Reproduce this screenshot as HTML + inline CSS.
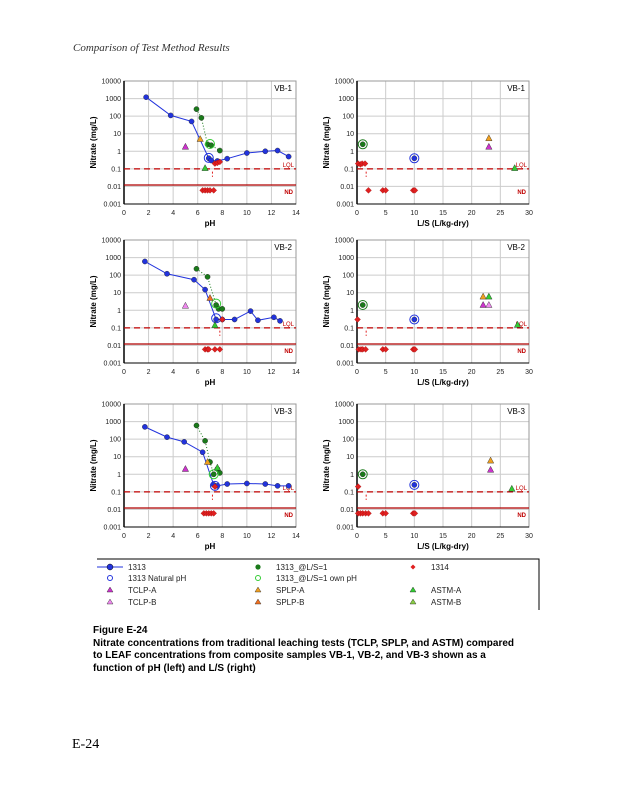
<!DOCTYPE html>
<html><head><meta charset="utf-8"><style>
body{margin:0;background:#fff;width:618px;height:800px;overflow:hidden;position:relative;font-family:"Liberation Sans",sans-serif}
.t{position:absolute;white-space:nowrap}
</style></head><body>
<div class="t" style="left:73px;top:42px;font-family:'Liberation Serif',serif;font-style:italic;font-size:11px;color:#333">Comparison of Test Method Results</div>
<svg id="s" width="618" height="800" style="position:absolute;left:0;top:0"></svg>
<div class="t" style="left:93px;top:625px;font-size:10px;font-weight:bold;line-height:12.5px">Figure E-24<br>Nitrate concentrations from traditional leaching tests (TCLP, SPLP, and ASTM) compared<br>to LEAF concentrations from composite samples VB-1, VB-2, and VB-3 shown as a<br>function of pH (left) and L/S (right)</div>
<div class="t" style="left:72px;top:737px;font-family:'Liberation Serif',serif;font-size:14px">E-24</div>
<script>
var s=document.getElementById('s'),h='';
var BL='#2233dd',GR='#1a7a1a',RD='#e02020',MG='#cc33cc',OR='#f0a020',LG='#33cc33',PK='#ee88ee',ORB='#f07020';
function Yf(p,v){return p.y0+(4-Math.log10(v))*p.hh/7}
function panel(x0,y0,xmax,step,lab,title,ndline){
 var w=172,hh=123;
 var X=function(v){return x0+v/xmax*w};
 for(var v=0;v<=xmax;v+=step){var xx=X(v);h+='<line x1="'+xx+'" y1="'+y0+'" x2="'+xx+'" y2="'+(y0+hh)+'" stroke="#ccc" stroke-width="1"/>';
  h+='<text x="'+xx+'" y="'+(y0+hh+11)+'" font-size="7" text-anchor="middle" fill="#222">'+v+'</text>';}
 var yl=['10000','1000','100','10','1','0.1','0.01','0.001'];
 for(var i=0;i<8;i++){var yy=y0+i*hh/7;h+='<line x1="'+x0+'" y1="'+yy+'" x2="'+(x0+w)+'" y2="'+yy+'" stroke="#ccc"/>';
  h+='<text x="'+(x0-3)+'" y="'+(yy+2.5)+'" font-size="7" text-anchor="end" fill="#222">'+yl[i]+'</text>';}
 return {X:X,x0:x0,y0:y0,w:w,hh:hh,lab:lab,title:title,ndline:ndline};
}
function frame(p){
 var x0=p.x0,y0=p.y0,w=p.w,hh=p.hh;
 h+='<rect x="'+x0+'" y="'+y0+'" width="'+w+'" height="'+hh+'" fill="none" stroke="#999"/>';
 h+='<line x1="'+x0+'" y1="'+y0+'" x2="'+x0+'" y2="'+(y0+hh)+'" stroke="#000" stroke-width="1.5"/>';
 h+='<line x1="'+x0+'" y1="'+(y0+hh)+'" x2="'+(x0+w)+'" y2="'+(y0+hh)+'" stroke="#000"/>';
 var y1=Yf(p,0.1);h+='<line x1="'+x0+'" y1="'+y1+'" x2="'+(x0+w)+'" y2="'+y1+'" stroke="#c00000" stroke-width="1.3" stroke-dasharray="6,4"/>';
 h+='<text x="'+(x0+w-2)+'" y="'+(y1-2)+'" font-size="6" text-anchor="end" fill="#c00000">LQL</text>';
 if(p.ndline){var y2=Yf(p,0.012);h+='<line x1="'+x0+'" y1="'+y2+'" x2="'+(x0+w)+'" y2="'+y2+'" stroke="#b00000" stroke-width="1.2"/>';}
 h+='<text x="'+(x0+w-3)+'" y="'+(Yf(p,0.012)+9)+'" font-size="6" text-anchor="end" fill="#c00000" font-weight="bold">ND</text>';
 h+='<text x="'+(x0+w-4)+'" y="'+(y0+10)+'" font-size="8" text-anchor="end" fill="#000">'+p.title+'</text>';
 h+='<text x="'+(x0+w/2)+'" y="'+(y0+hh+22)+'" font-size="8" font-weight="bold" text-anchor="middle">'+p.lab+'</text>';
 h+='<text transform="translate('+(x0-28)+','+(y0+hh/2)+') rotate(-90)" font-size="8" font-weight="bold" text-anchor="middle">Nitrate (mg/L)</text>';
}
function P(p,x,y){return [p.X(x),Yf(p,y)]}
function line(p,pts,col,dash){var d=pts.map(function(q){var r=P(p,q[0],q[1]);return r[0]+','+r[1]}).join(' ');
 h+='<polyline points="'+d+'" fill="none" stroke="'+col+'" stroke-width="1" '+(dash?'stroke-dasharray="1,2"':'')+'/>';}
function dot(p,x,y,col){var r=P(p,x,y);h+='<circle cx="'+r[0]+'" cy="'+r[1]+'" r="2.6" fill="'+col+'" stroke="#222" stroke-width="0.4"/>';}
function ring(p,x,y,col){var r=P(p,x,y);h+='<circle cx="'+r[0]+'" cy="'+r[1]+'" r="4.5" fill="none" stroke="'+col+'" stroke-width="1"/>';}
function dia(p,x,y){var r=P(p,x,y),a=r[0],b=r[1];h+='<polygon points="'+a+','+(b-3)+' '+(a+3)+','+b+' '+a+','+(b+3)+' '+(a-3)+','+b+'" fill="'+RD+'" stroke="#800" stroke-width="0.3"/>';}
function tri(p,x,y,col){var r=P(p,x,y),a=r[0],b=r[1];h+='<polygon points="'+a+','+(b-3.5)+' '+(a+3.2)+','+(b+2.5)+' '+(a-3.2)+','+(b+2.5)+'" fill="'+col+'" stroke="#222" stroke-width="0.4"/>';}
function vdot(p,x,y1,y2){var a=P(p,x,y1),b=P(p,x,y2);h+='<line x1="'+a[0]+'" y1="'+a[1]+'" x2="'+b[0]+'" y2="'+b[1]+'" stroke="'+RD+'" stroke-dasharray="2,2"/>';}
function left(y0,title,blue,green,nat,gring,tris,reds,nds){
 var p=panel(124,y0,14,2,'pH',title,true);frame(p);
 line(p,green,GR,true);line(p,blue,BL,false);
 blue.forEach(function(q){dot(p,q[0],q[1],BL)});green.forEach(function(q){dot(p,q[0],q[1],GR)});
 ring(p,nat[0],nat[1],BL);ring(p,gring[0],gring[1],LG);
 tris.forEach(function(t){tri(p,t[0],t[1],t[2])});
 vdot(p,reds[0][0]-0.2,0.07,0.035);
 reds.forEach(function(q){dia(p,q[0],q[1])});nds.forEach(function(x){dia(p,x,0.006)});
}
function right(y0,title,ndline,greenP,blueP,tris,reds,nds){
 var p=panel(357,y0,30,5,'L/S (L/kg-dry)',title,ndline);frame(p);
 dot(p,greenP[0],greenP[1],GR);ring(p,greenP[0],greenP[1],GR);
 dot(p,blueP[0],blueP[1],BL);ring(p,blueP[0],blueP[1],BL);
 tris.forEach(function(t){tri(p,t[0],t[1],t[2])});
 vdot(p,1.6,0.07,0.035);
 reds.forEach(function(q){dia(p,q[0],q[1])});nds.forEach(function(x){dia(p,x,0.006)});
}
left(81,'VB-1',[[1.8,1200],[3.8,110],[5.5,50],[6.9,0.4],[7.1,0.3],[7.6,0.28],[8.4,0.38],[10,0.8],[11.5,1],[12.5,1.1],[13.4,0.5]],
 [[5.9,250],[6.3,80],[6.8,2.5],[7.1,2.2],[7.8,1.1]],[6.9,0.42],[7.0,2.6],[[5,1.8,MG],[6.2,5,OR],[6.6,0.11,LG]],[[7.4,0.2],[7.6,0.22],[7.8,0.25]],[6.4,6.6,6.8,7.0,7.3]);
right(81,'VB-1',false,[1,2.5],[10,0.4],[[23,5.5,OR],[23,1.8,MG],[27.5,0.11,LG]],[[0.2,0.2],[0.6,0.18],[0.9,0.2],[1.4,0.2]],[2,4.5,5,9.8,10.1]);
left(240,'VB-2',[[1.7,600],[3.5,120],[5.7,55],[6.6,15],[7.5,0.3],[8.0,0.3],[9.0,0.3],[10.3,0.9],[10.9,0.27],[12.2,0.4],[12.7,0.25]],
 [[5.9,230],[6.8,80],[7.5,2],[7.7,1.2],[8.0,1.2]],[7.5,0.35],[7.5,2.4],[[5,1.8,PK],[7.0,5,ORB],[7.4,0.14,LG]],[[8.0,0.3]],[6.6,6.8,6.9,7.4,7.8]);
right(240,'VB-2',true,[1,2],[10,0.3],[[22,6,OR],[23,6,LG],[22,2,MG],[23,2,PK],[28,0.15,LG]],[[0.1,0.3]],[0.3,0.7,1,1.5,4.5,5,9.8,10.1]);
left(404,'VB-3',[[1.7,500],[3.5,130],[4.9,70],[6.4,18],[7.3,0.25],[7.6,0.22],[8.4,0.28],[10,0.3],[11.5,0.28],[12.5,0.22],[13.4,0.22]],
 [[5.9,600],[6.6,80],[7.0,5],[7.3,1],[7.6,2],[7.8,1.2]],[7.4,0.22],[7.3,1],[[5,2,MG],[6.8,5,OR],[7.6,2.4,LG]],[[7.4,0.2]],[6.5,6.7,6.9,7.1,7.3]);
right(404,'VB-3',true,[1,1],[10,0.25],[[23.3,6,OR],[23.3,1.8,MG],[27,0.15,LG]],[[0.2,0.2]],[0.2,0.6,1,1.5,2,4.5,5,9.8,10.1]);
h+='<path d="M97,559 H539 V610" fill="none" stroke="#000"/>';
var L=[[110,567,'b','1313'],[258,567,'g','1313_@L/S=1'],[413,567,'r','1314'],
[110,578,'ob','1313 Natural pH'],[258,578,'og','1313_@L/S=1 own pH'],
[110,590,'t'+MG,'TCLP-A'],[258,590,'t'+OR,'SPLP-A'],[413,590,'t'+LG,'ASTM-A'],
[110,602,'t'+PK,'TCLP-B'],[258,602,'t'+ORB,'SPLP-B'],[413,602,'t#88cc44','ASTM-B']];
L.forEach(function(l){var x=l[0],y=l[1],k=l[2];
 if(k=='b'){h+='<line x1="97" y1="'+y+'" x2="123" y2="'+y+'" stroke="'+BL+'"/><circle cx="'+x+'" cy="'+y+'" r="3" fill="'+BL+'" stroke="#000" stroke-width="0.5"/>';}
 else if(k=='g')h+='<circle cx="'+x+'" cy="'+y+'" r="2.6" fill="'+GR+'"/>';
 else if(k=='r')h+='<polygon points="'+x+','+(y-2.5)+' '+(x+2.5)+','+y+' '+x+','+(y+2.5)+' '+(x-2.5)+','+y+'" fill="'+RD+'"/>';
 else if(k=='ob')h+='<circle cx="'+x+'" cy="'+y+'" r="2.5" fill="none" stroke="'+BL+'"/>';
 else if(k=='og')h+='<circle cx="'+x+'" cy="'+y+'" r="2.5" fill="none" stroke="'+LG+'"/>';
 else h+='<polygon points="'+x+','+(y-3)+' '+(x+3)+','+(y+2)+' '+(x-3)+','+(y+2)+'" fill="'+k.slice(1)+'" stroke="#222" stroke-width="0.4"/>';
 h+='<text x="'+(x+18)+'" y="'+(y+3)+'" font-size="8" fill="#222">'+l[3]+'</text>';});
s.innerHTML=h;
</script>
</body></html>
